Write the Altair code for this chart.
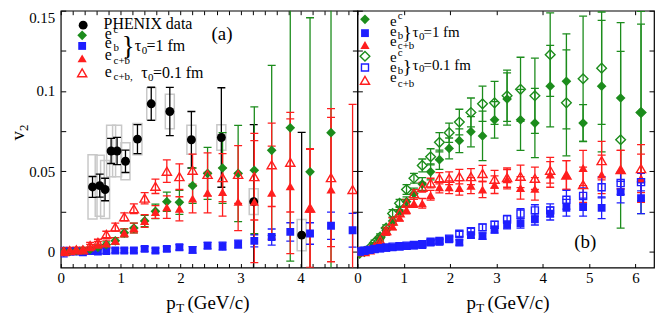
import altair as alt
import pandas as pd

# ---------------- data ----------------
PT = [0.05, 0.15, 0.26, 0.37, 0.49, 0.62, 0.76, 0.91, 1.06, 1.22, 1.40, 1.58, 1.77, 1.98,
      2.20, 2.45, 2.70, 2.96, 3.23, 3.52, 3.83, 4.16, 4.51, 4.87, 5.27, 5.68, 6.12]

# panel (a)
A_EC = [0.0, 0.0, 0.0005, 0.0008, 0.0013, 0.0026, 0.0042, 0.0066, 0.0116, 0.0146, 0.019, 0.025, 0.031, 0.0306,
        0.041, 0.0486, 0.052, 0.0486, 0.0506, 0.063, 0.077, 0.0496, 0.074, None, None, None, None]
A_EC_ERR = [0.001, 0.001, 0.001, 0.001, 0.0012, 0.0015, 0.0018, 0.002, 0.0025, 0.003, 0.0035, 0.0045, 0.006, 0.0075,
            0.011, 0.0162, 0.022, 0.030, 0.0395, 0.053, 0.083, 0.096, 0.12, None, None, None, None]
A_EB = [-0.0004, 0.0, 0.0, -0.0005, 0.0003, 0.0, 0.0003, 0.0006, 0.0006, 0.0006, 0.0016, 0.0006, 0.0016, 0.0026,
        0.001, 0.0036, 0.0033, 0.0046, 0.0066, 0.009, 0.0122, 0.0112, 0.016, 0.0132, None, None, None]
A_EB_ERR = [0.003, 0.002, 0.0015, 0.0015, 0.0015, 0.0015, 0.0015, 0.0015, 0.0015, 0.0015, 0.0015, 0.0015, 0.0015, 0.0017,
            0.002, 0.002, 0.0025, 0.0025, 0.0038, 0.005, 0.0057, 0.0067, 0.0085, 0.0105, None, None, None]
A_ECB = [0.0, 0.001, 0.001, 0.001, 0.0026, 0.0042, 0.005, 0.0066, 0.0116, 0.0146, 0.019, 0.0246, 0.0276, 0.0266,
         0.033, 0.0366, 0.037, 0.031, 0.031, 0.0366, 0.0406, 0.0266, 0.0386, None, None, None, None]
A_ECB_ERR = [0.002, 0.0015, 0.0015, 0.0015, 0.0018, 0.002, 0.002, 0.002, 0.0025, 0.003, 0.004, 0.004, 0.007, 0.0075,
             0.009, 0.0126, 0.015, 0.018, 0.038, 0.029, 0.042, 0.037, 0.045, None, None, None, None]
A_ECB01 = [0.0, 0.0005, 0.001, 0.001, 0.0036, 0.0056, 0.0106, 0.0152, 0.0216, 0.0266, 0.0332, 0.0406, 0.050, 0.0466,
           0.0506, 0.048, 0.046, 0.048, 0.0466, 0.054, 0.0556, 0.027, 0.046, 0.0386, None, None, None]
A_ECB01_ERR = [0.002, 0.0015, 0.0015, 0.0015, 0.002, 0.002, 0.002, 0.0025, 0.0025, 0.003, 0.0035, 0.0045, 0.007, 0.008,
               0.01, 0.0134, 0.015, 0.018, 0.027, 0.026, 0.031, 0.037, 0.043, 0.053, None, None, None]

PH_PT = [0.53, 0.65, 0.74, 0.84, 0.94, 1.08, 1.28, 1.51, 1.82, 2.18, 2.68, 3.22, 4.02]
PH_V = [0.0402, 0.041, 0.0386, 0.0626, 0.0626, 0.0562, 0.070, 0.092, 0.0872, 0.0696, 0.071, 0.031, 0.0102]
PH_STAT = [0.0065, 0.0072, 0.007, 0.0078, 0.0085, 0.007, 0.009, 0.0103, 0.015, 0.0176, 0.031, 0.048, 0.064]
PH_SYS = [0.020, 0.019, 0.018, 0.016, 0.016, 0.0115, 0.0098, 0.010, 0.0107, 0.009, 0.008, 0.008, 0.0097]

# panel (b)
B_EC = [-0.001, 0.0, 0.001, 0.004, 0.008, 0.013, 0.019, 0.025, 0.031, 0.036, 0.042, 0.0496, 0.0572, 0.0642,
        0.069, 0.0746, 0.072, 0.082, 0.095, 0.082, 0.080, 0.103, 0.106, 0.080, 0.103, 0.0956, 0.0866]
B_EC_ERR = [0.001, 0.001, 0.001, 0.0015, 0.002, 0.002, 0.0025, 0.003, 0.003, 0.0035, 0.004, 0.005, 0.006, 0.0065,
            0.0074, 0.0094, 0.0154, 0.0114, 0.0163, 0.019, 0.0216, 0.0254, 0.0296, 0.0115, 0.041, 0.047, 0.063]
B_EC01 = [-0.001, 0.0, 0.002, 0.0055, 0.009, 0.0146, 0.0236, 0.030, 0.0386, 0.0456, 0.0536, 0.059, 0.068, 0.074,
          0.0806, 0.0866, 0.092, 0.0926, 0.097, 0.101, 0.097, 0.1226, 0.0926, 0.1076, 0.1142, 0.0696, 0.0866]
B_EC01_ERR = [0.001, 0.001, 0.001, 0.0015, 0.002, 0.002, 0.0025, 0.0025, 0.003, 0.003, 0.004, 0.005, 0.006, 0.006,
              0.008, 0.009, 0.011, 0.0134, 0.016, 0.020, 0.0234, 0.026, 0.033, 0.039, 0.035, 0.055, 0.055]
B_EB = [0.0, 0.0005, 0.001, 0.0015, 0.002, 0.0022, 0.0025, 0.003, 0.0033, 0.0036, 0.004, 0.0055, 0.006, 0.0075,
        0.0056, 0.0102, 0.0096, 0.0136, 0.0166, 0.0176, 0.020, 0.0236, 0.0272, 0.0276, 0.0272, 0.037, 0.0332]
B_EB_ERR = [0.001, 0.001, 0.001, 0.001, 0.001, 0.001, 0.001, 0.001, 0.001, 0.001, 0.0012, 0.0012, 0.0014, 0.0015,
            0.0016, 0.0018, 0.002, 0.0022, 0.0025, 0.003, 0.0035, 0.004, 0.0052, 0.0056, 0.0068, 0.0067, 0.0096]
B_EB01 = [0.0, 0.0005, 0.001, 0.0015, 0.002, 0.0025, 0.003, 0.0033, 0.0036, 0.004, 0.0045, 0.006, 0.0065, 0.008,
          0.011, 0.0126, 0.015, 0.0166, 0.020, 0.0236, 0.0256, 0.0256, 0.0322, 0.0346, 0.040, 0.0426, 0.0432]
B_EB01_ERR = [0.001, 0.001, 0.001, 0.001, 0.001, 0.001, 0.001, 0.001, 0.001, 0.001, 0.0012, 0.0012, 0.0014, 0.0015,
              0.0016, 0.0018, 0.002, 0.0022, 0.0025, 0.003, 0.0035, 0.004, 0.0058, 0.005, 0.0066, 0.007, 0.0054]
B_ECB = [0.0, 0.0, 0.001, 0.003, 0.0056, 0.0122, 0.0156, 0.021, 0.026, 0.030, 0.030, 0.035, 0.040, 0.040,
         0.0396, 0.041, 0.0386, 0.0416, 0.045, 0.0396, 0.039, 0.048, 0.0476, 0.052, 0.048, 0.051, 0.0456]
B_ECB_ERR = [0.001, 0.001, 0.001, 0.0015, 0.002, 0.002, 0.002, 0.002, 0.0025, 0.0025, 0.003, 0.003, 0.0035, 0.004,
             0.0045, 0.005, 0.005, 0.0055, 0.006, 0.007, 0.007, 0.008, 0.009, 0.011, 0.012, 0.012, 0.015]
B_ECB01 = [0.0, 0.0, 0.001, 0.003, 0.007, 0.013, 0.019, 0.024, 0.030, 0.036, 0.040, 0.0426, 0.0456, 0.0456,
           0.0466, 0.0466, 0.0486, 0.045, 0.046, 0.0468, 0.0456, 0.0506, 0.0476, 0.0416, 0.0566, 0.051, 0.0516]
B_ECB01_ERR = [0.001, 0.001, 0.001, 0.0015, 0.002, 0.002, 0.002, 0.002, 0.0025, 0.0025, 0.003, 0.003, 0.0035, 0.004,
               0.0045, 0.005, 0.005, 0.0055, 0.006, 0.007, 0.007, 0.008, 0.009, 0.011, 0.012, 0.012, 0.015]

Y_DOMAIN = [-0.01, 0.15]
XA_DOMAIN = [0, 4.95]
XB_DOMAIN = [0, 6.4]
Y_TICKS = [0, 0.025, 0.05, 0.075, 0.1, 0.125, 0.15]
Y_LABELS = ["0", "0.05", "0.1", "0.15"]
XA_TICKS = [round(0.2 * i, 1) for i in range(25)]
XB_TICKS = [0, 1, 2, 3, 4, 5, 6]

# ---------------- style ----------------
FONT = "Liberation Serif"
GREEN = "#1c8c1c"
RED = "#ff1e1e"
BLUE = "#1e1eff"
BLACK = "#000000"
BOXGRAY = "#c8c8c8"

W = 298
H = 258
SX = W / 300.7
SY = H / 266.7
LF = 16   # legend font
SF = 11   # sub/superscript font

YS = alt.Scale(domain=Y_DOMAIN, nice=False, zero=False)
XA = alt.Scale(domain=XA_DOMAIN, nice=False, zero=False)
XB = alt.Scale(domain=XB_DOMAIN, nice=False, zero=False)
ONE = pd.DataFrame({"k": [0]})

Y_EXPR = "indexof([" + ",".join("'%s'" % s for s in Y_LABELS) + "], format(datum.value, '~g')) >= 0 ? format(datum.value, '~g') : ''"
X_EXPR = "datum.value % 1 == 0 ? format(datum.value, 'd') : ''"

COMMON = dict(domain=False, grid=False, tickColor="black", tickWidth=1, labelColor="black",
              labelFont=FONT, title=None)


def axis_layers(xs, xticks, ylabels):
    d = alt.Chart(pd.DataFrame({"pt": [0.0], "v": [0.0]}))
    if ylabels:
        yax = alt.Axis(orient="left", values=Y_TICKS, tickSize=5, offset=-5, labelPadding=6,
                       labelFontSize=15, labelFlush=True, labelExpr=Y_EXPR, labelOverlap=False, **COMMON)
    else:
        yax = alt.Axis(orient="left", values=Y_TICKS, tickSize=5, offset=-5, labels=False, **COMMON)
    main = d.mark_point(opacity=0).encode(
        x=alt.X("pt:Q", scale=xs, axis=alt.Axis(orient="bottom", values=xticks, tickSize=4, offset=-4,
                                                labelPadding=3, labelFontSize=15, labelFlush=False,
                                                labelExpr=X_EXPR, labelOverlap=False, **COMMON)),
        y=alt.Y("v:Q", scale=YS, axis=yax),
    )
    mirror = d.mark_point(opacity=0).encode(
        x=alt.X("pt:Q", scale=xs, axis=alt.Axis(orient="top", values=xticks, tickSize=4, offset=-4,
                                                labels=False, **COMMON)),
        y=alt.Y("v:Q", scale=YS, axis=alt.Axis(orient="right", values=Y_TICKS, tickSize=5, offset=-5,
                                               labels=False, **COMMON)),
    )
    return [main, mirror]


def series(pt, v, err, xs, color, shape, filled, size):
    df = pd.DataFrame({"pt": pt, "v": v, "err": err}).dropna()
    base = alt.Chart(df).transform_calculate(lo="datum.v - datum.err", hi="datum.v + datum.err")
    X = alt.X("pt:Q", scale=xs, axis=None)
    bars = [
        base.mark_rule(color=color, strokeWidth=1.3, clip=True).encode(
            x=X, y=alt.Y("lo:Q", scale=YS, axis=None), y2="hi:Q"),
        base.mark_tick(orient="horizontal", color=color, size=8, thickness=1.3, opacity=1, clip=True).encode(
            x=X, y=alt.Y("hi:Q", scale=YS, axis=None)),
        base.mark_tick(orient="horizontal", color=color, size=8, thickness=1.3, opacity=1, clip=True).encode(
            x=X, y=alt.Y("lo:Q", scale=YS, axis=None)),
    ]
    pts = base.mark_point(shape=shape, filled=filled, size=size, color=color, opacity=1,
                          strokeWidth=1.4, clip=True).encode(x=X, y=alt.Y("v:Q", scale=YS, axis=None))
    return bars, [pts]


def txt(s, x, y, size=LF, align="left", angle=0):
    return alt.Chart(ONE).mark_text(text=s, fontSize=size, font=FONT, align=align, baseline="middle",
                                    angle=angle, color="black").encode(x=alt.value(x), y=alt.value(y))


def rtxt(s, x, y, size=LF, align="left"):
    return txt(s, x * SX, y * SY, size, align)


def sym(shape, filled, color, size, x, y):
    return alt.Chart(ONE).mark_point(shape=shape, filled=filled, color=color, size=size, opacity=1,
                                     strokeWidth=1.4).encode(x=alt.value(x * SX), y=alt.value(y * SY))


S_SQ, S_DI, S_TR, S_CI = 62, 95, 85, 80

# ---------------- panel (a) ----------------
ph = pd.DataFrame({"pt": PH_PT, "v": PH_V, "sys": PH_SYS})
boxes = alt.Chart(ph).transform_calculate(
    x1="datum.pt - 0.075", x2="datum.pt + 0.075", lo="datum.v - datum.sys", hi="datum.v + datum.sys"
).mark_rect(fillOpacity=0, stroke=BOXGRAY, strokeWidth=1.5, clip=True).encode(
    x=alt.X("x1:Q", scale=XA, axis=None), x2="x2:Q",
    y=alt.Y("lo:Q", scale=YS, axis=None), y2="hi:Q")

sa = [
    series(PH_PT, PH_V, PH_STAT, XA, BLACK, "circle", True, S_CI),
    series(PT, A_EB, A_EB_ERR, XA, BLUE, "square", True, S_SQ),
    series(PT, A_EC, A_EC_ERR, XA, GREEN, "diamond", True, S_DI),
    series(PT, A_ECB, A_ECB_ERR, XA, RED, "triangle-up", True, S_TR),
    series(PT, A_ECB01, A_ECB01_ERR, XA, RED, "triangle-up", False, S_TR),
]
layers_a = axis_layers(XA, XA_TICKS, True) + [boxes]
for b, p in sa:
    layers_a += b
for b, p in sa:
    layers_a += p

layers_a += [
    sym("circle", True, BLACK, S_CI, 22.7, 15.0),
    sym("diamond", True, GREEN, S_DI, 21.7, 25.6),
    sym("square", True, BLUE, S_SQ, 21.7, 36.6),
    sym("triangle-up", True, RED, S_TR, 21.7, 49.5),
    sym("triangle-up", False, RED, S_TR, 21.7, 64.5),
    rtxt("PHENIX data", 43.4, 14.0),
    rtxt("e", 44.5, 24.0), rtxt("c", 53.5, 19.8, SF),
    rtxt("e", 44.5, 33.8), rtxt("b", 53.5, 38.8, SF),
    rtxt("e", 44.5, 45.8), rtxt("c+b", 53.5, 51.8, SF),
    rtxt("}", 68.5, 37.3, 27, "center"),
    rtxt("τ", 75, 36.6), rtxt("0", 82, 42.0, SF), rtxt("=1 fm", 87, 36.6),
    rtxt("e", 44.5, 63.3), rtxt("c+b,", 53.5, 69, SF),
    rtxt("τ", 81.5, 64.5), rtxt("0", 88.5, 70, SF), rtxt("=0.1 fm", 93.5, 64.5),
    rtxt("(a)", 163.4, 24, 19, "center"),
    txt("p", 107 * SX, H + 36, 19), txt("T", 117 * SX, H + 41, 13), txt("(GeV/c)", 128.5 * SX, H + 36, 19),
    txt("v", -43, 129.8 * SY, 19, "center", 270), txt("2", -37, 121.5 * SY, 13, "center", 270),
]

left = alt.layer(*layers_a).resolve_axis(x="independent", y="independent").properties(width=W, height=H)

# ---------------- panel (b) ----------------
sb = [
    series(PT, B_EC, B_EC_ERR, XB, GREEN, "diamond", True, S_DI),
    series(PT, B_EC01, B_EC01_ERR, XB, GREEN, "diamond", False, S_DI),
    series(PT, B_ECB, B_ECB_ERR, XB, RED, "triangle-up", True, S_TR),
    series(PT, B_ECB01, B_ECB01_ERR, XB, RED, "triangle-up", False, S_TR),
    series(PT, B_EB, B_EB_ERR, XB, BLUE, "square", True, S_SQ),
    series(PT, B_EB01, B_EB01_ERR, XB, BLUE, "square", False, 50),
]
layers_b = axis_layers(XB, XB_TICKS, False)
for b, p in sb:
    layers_b += b
for b, p in sb:
    layers_b += p

RF = 15  # right legend font
layers_b += [
    sym("diamond", True, GREEN, S_DI, 7.7, 9.0),
    sym("square", True, BLUE, S_SQ, 7.7, 23.3),
    sym("triangle-up", True, RED, S_TR, 7.7, 35.6),
    sym("diamond", False, GREEN, S_DI, 7.7, 47.3),
    sym("square", False, BLUE, 50, 7.7, 59.0),
    sym("triangle-up", False, RED, S_TR, 7.7, 72.3),
    rtxt("e", 33, 11.0, RF), rtxt("c", 41, 6.0, SF),
    rtxt("e", 33, 21.0, RF), rtxt("b", 41, 25.8, SF),
    rtxt("e", 33, 31.5, RF), rtxt("c+b", 41, 36.8, SF),
    rtxt("}", 50.5, 23.5, 19, "center"),
    rtxt("τ", 56, 22.3, RF), rtxt("0", 62.5, 27.3, SF), rtxt("=1 fm", 67, 22.3, RF),
    rtxt("e", 33, 47.8, RF), rtxt("c", 41, 43.8, SF),
    rtxt("e", 33, 58.0, RF), rtxt("b", 41, 62.8, SF),
    rtxt("e", 33, 69.3, RF), rtxt("c+b", 41, 76.5, SF),
    rtxt("}", 50.5, 58.5, 19, "center"),
    rtxt("τ", 56, 56.0, RF), rtxt("0", 62.5, 61.0, SF), rtxt("=0.1 fm", 67, 56.0, RF),
    rtxt("(b)", 231, 240.6, 19, "center"),
    txt("p", 110.5 * SX, H + 36, 19), txt("T", 120.5 * SX, H + 41, 13), txt("(GeV/c)", 132 * SX, H + 36, 19),
]

right = alt.layer(*layers_b).resolve_axis(x="independent", y="independent").properties(width=W, height=H)

chart = alt.hconcat(
    left, right, spacing=0, bounds="flush",
    padding={"left": 0, "top": 0, "right": 0, "bottom": 0},
).configure_view(stroke="black", strokeWidth=1.2)

chart.save("out.html", embed_options={"renderer": "svg", "actions": False})
